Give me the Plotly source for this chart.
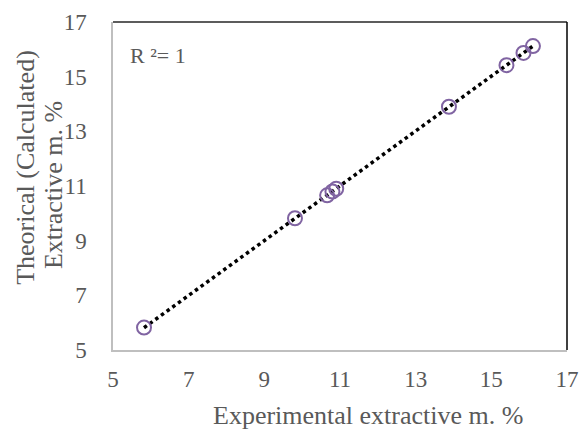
import numpy as np
import plotly.graph_objects as go

experimental = [5.82, 9.81, 10.66, 10.8, 10.9, 13.88, 15.4, 15.85, 16.1]
theoretical = [5.82, 9.82, 10.66, 10.8, 10.9, 13.9, 15.42, 15.87, 16.12]
tick_vals = [5, 7, 9, 11, 13, 15, 17]

x = np.array(experimental)
y = np.array(theoretical)
slope, intercept = np.polyfit(x, y, 1)
xl = np.array([x.min(), x.max()])
yl = slope * xl + intercept

font_family = "Liberation Serif, Times New Roman, serif"
gray = "#595959"

fig = go.Figure()
fig.add_trace(go.Scatter(
    x=xl, y=yl, mode="lines",
    line=dict(color="black", width=3.5, dash="dot"),
    showlegend=False, hoverinfo="skip"))
fig.add_trace(go.Scatter(
    x=experimental, y=theoretical, mode="markers",
    marker=dict(symbol="circle-open", size=14, color="#8064A2", line=dict(width=2)),
    showlegend=False))

fig.update_layout(
    width=579, height=430,
    margin=dict(l=113, r=12, t=22, b=80),
    paper_bgcolor="white", plot_bgcolor="white",
    font=dict(family=font_family, color=gray, size=23),
    xaxis=dict(
        range=[5, 17], tickvals=tick_vals, showgrid=False, zeroline=False,
        showline=True, linecolor="#bfbfbf", linewidth=1.5,
        ticklabelstandoff=8, automargin=False, ticklabeloverflow="allow",
    ),
    yaxis=dict(
        range=[5, 17], tickvals=tick_vals, showgrid=False, zeroline=False,
        showline=True, linecolor="#bfbfbf", linewidth=1.5,
        ticklabelstandoff=20, automargin=False, ticklabeloverflow="allow",
    ),
    shapes=[
        dict(type="line", xref="paper", yref="paper", x0=0, x1=1, y0=1, y1=1,
             line=dict(color="#262626", width=1.5)),
        dict(type="line", xref="paper", yref="paper", x0=1, x1=1, y0=0, y1=1,
             line=dict(color="black", width=1.5)),
    ],
    annotations=[
        dict(text="R ²= 1", xref="paper", yref="paper", x=0.033, y=0.899,
             xanchor="left", yanchor="middle", showarrow=False,
             font=dict(size=22, color=gray, family=font_family)),
        dict(text="Experimental extractive m. %", xref="paper", yref="paper",
             x=0.562, y=-0.201, xanchor="center", yanchor="middle", showarrow=False,
             font=dict(size=26, color=gray, family=font_family)),
        dict(text="Theorical (Calculated)", xref="paper", yref="paper", textangle=-90,
             x=-0.192, y=0.558, xanchor="center", yanchor="middle", showarrow=False,
             font=dict(size=26, color=gray, family=font_family)),
        dict(text="Extractive m. %", xref="paper", yref="paper", textangle=-90,
             x=-0.132, y=0.503, xanchor="center", yanchor="middle", showarrow=False,
             font=dict(size=26, color=gray, family=font_family)),
    ],
)

fig.write_html("out.html", config={"displayModeBar": False},
               post_script="document.body.style.margin='0';")
